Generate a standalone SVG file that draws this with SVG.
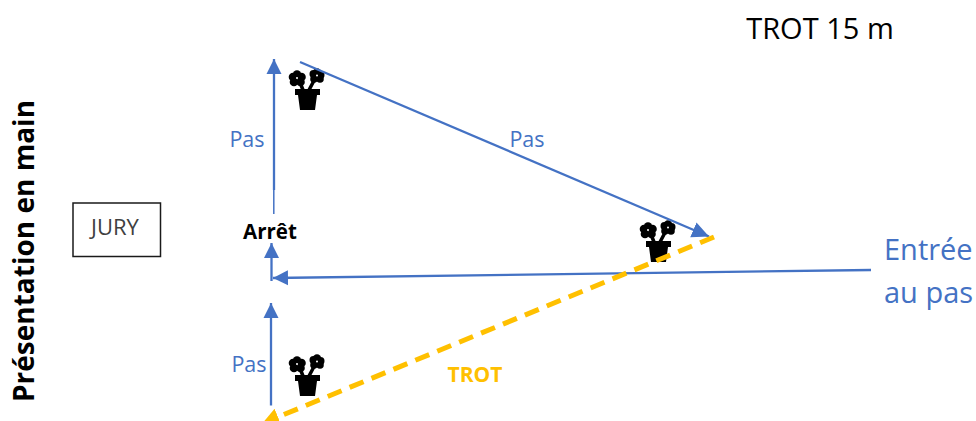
<svg xmlns="http://www.w3.org/2000/svg" width="976" height="421" viewBox="0 0 976 421">
<style>
text{font-family:"Open Sans","Noto Sans","Liberation Sans",sans-serif}
.b{stroke:#4472c4;stroke-width:2.300;fill:none}
.l{fill:#4472c4;font-size:21.500px}
</style>
<defs>
<marker id="ah" markerUnits="userSpaceOnUse" markerWidth="16" markerHeight="16" refX="15" refY="8" orient="auto"><path d="M0 .5L15 8L0 15.500Z" fill="#4472c4"/></marker>
<marker id="ad" markerUnits="userSpaceOnUse" markerWidth="18" markerHeight="18" refX="17" refY="9" orient="auto"><path d="M0 1L17 9L0 17Z" fill="#4472c4"/></marker>
<marker id="ay" markerUnits="userSpaceOnUse" markerWidth="18" markerHeight="20" refX="0" refY="10" orient="auto"><path d="M0 1L17 10L0 19Z" fill="#ffc000"/></marker>
<g id="plant">
<path d="M295 89H320V95H317L315 110H300L298 95H295Z" fill="#000"/>
<path d="M303 90L299 80M309 90L317 75" stroke="#000" stroke-width="3.500" fill="none"/>
<g fill="#000"><circle cx="297" cy="74.500" r="4.300"/><circle cx="301.500" cy="77" r="4.300"/><circle cx="300.500" cy="82" r="4.300"/><circle cx="294" cy="82" r="4.300"/><circle cx="293" cy="77" r="4.300"/>
<circle cx="317" cy="72.500" r="4.200"/><circle cx="320.500" cy="75" r="4"/><circle cx="320" cy="79" r="3.800"/><circle cx="314" cy="79" r="3.800"/><circle cx="313.500" cy="74" r="4"/></g>
<circle cx="297" cy="78" r="1" fill="#fff"/><circle cx="317" cy="75.500" r="1" fill="#fff"/>
</g>
</defs>
<g id="plant-1"><use href="#plant"/></g>
<g id="plant-2"><use href="#plant" x="351" y="152"/></g>
<g id="plant-3"><use href="#plant" y="286"/></g>
<g id="connectors">
<path d="M274 190V59" class="b" marker-end="url(#ah)"/>
<path d="M273.800 190V214" stroke="#4472c4" stroke-width="1.500" fill="none"/>
<path d="M300 62L709 236.500" class="b" marker-end="url(#ad)"/>
<path d="M871 270L273 278" class="b" marker-end="url(#ah)"/>
<path d="M271.500 281V243" class="b" marker-end="url(#ah)"/>
<path d="M271 405.500V303" class="b" marker-end="url(#ah)"/>
<path d="M714 237L278 417" stroke="#ffc000" stroke-width="5" fill="none" stroke-dasharray="15 8.700" marker-end="url(#ay)"/>
</g>
<g id="jury"><rect x="73" y="203" width="87.500" height="53.500" fill="#fff" stroke="#1a1a1a" stroke-width="1.500"/><text x="115" y="235" font-size="22" fill="#404040" text-anchor="middle">JURY</text></g>
<text x="820" y="39" font-size="29" fill="#000" text-anchor="middle">TROT 15 m</text>
<text x="247" y="147" class="l" text-anchor="middle">Pas</text>
<text x="527" y="147" class="l" text-anchor="middle">Pas</text>
<text x="249" y="372" class="l" text-anchor="middle">Pas</text>
<text x="270" y="239" font-size="20.500" font-weight="700" fill="#000" text-anchor="middle">Arrêt</text>
<text x="475" y="382" font-size="21" font-weight="700" fill="#ffc000" text-anchor="middle">TROT</text>
<text x="884" y="260" font-size="29" fill="#4472c4">Entrée</text>
<text x="884" y="303" font-size="29" fill="#4472c4">au pas</text>
<text transform="translate(34,402) rotate(-90)" font-size="28" font-weight="700" fill="#000">Présentation en main</text>
</svg>
